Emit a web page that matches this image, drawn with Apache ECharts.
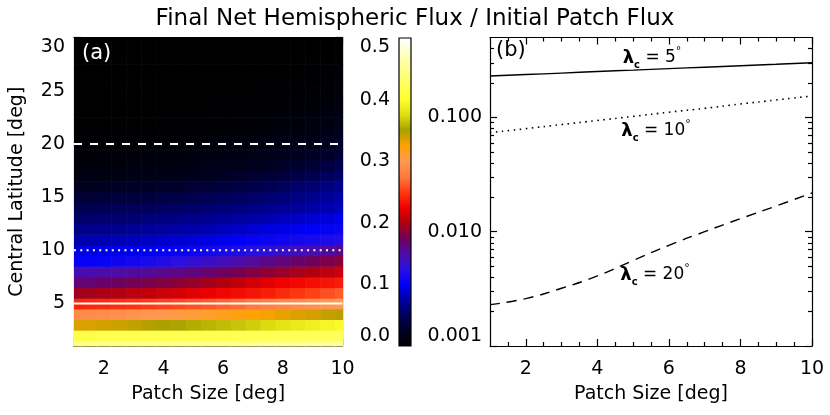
<!DOCTYPE html>
<html>
<head>
<meta charset="utf-8">
<title>Final Net Hemispheric Flux / Initial Patch Flux</title>
<script src="https://cdn.jsdelivr.net/npm/echarts@6/dist/echarts.min.js"></script>
<style>
  html, body { margin: 0; padding: 0; background: #fff; }
  #chart { width: 830px; height: 415px; }
</style>
</head>
<body>
<div id="chart"></div>
<script>
// panel (a): columns = patch size, rows = central latitude (1..30)
const patchSizes = [1, 1.5, 2, 2.5, 3, 3.5, 4, 4.5, 5, 5.5, 6, 6.5, 7, 7.5, 8, 8.5, 9, 9.5, 10];
const latitudes = [1, 2, 3, 4, 5, 6, 7, 8, 9, 10, 11, 12, 13, 14, 15, 16, 17, 18, 19, 20, 21, 22, 23, 24, 25, 26, 27, 28, 29, 30];
const fluxRatio = [
  [0.447, 0.447, 0.448, 0.448, 0.448, 0.449, 0.449, 0.450, 0.450, 0.451, 0.451, 0.452, 0.452, 0.453, 0.453, 0.454, 0.455, 0.456, 0.457],
  [0.414, 0.414, 0.415, 0.415, 0.415, 0.416, 0.416, 0.417, 0.417, 0.418, 0.418, 0.419, 0.419, 0.420, 0.421, 0.421, 0.422, 0.423, 0.424],
  [0.335, 0.336, 0.338, 0.340, 0.343, 0.346, 0.349, 0.352, 0.355, 0.358, 0.361, 0.364, 0.368, 0.373, 0.378, 0.383, 0.388, 0.393, 0.397],
  [0.288, 0.289, 0.291, 0.293, 0.295, 0.298, 0.301, 0.304, 0.308, 0.312, 0.316, 0.320, 0.324, 0.328, 0.332, 0.335, 0.338, 0.342, 0.345],
  [0.240, 0.241, 0.243, 0.245, 0.247, 0.250, 0.253, 0.256, 0.259, 0.262, 0.266, 0.270, 0.275, 0.280, 0.285, 0.289, 0.293, 0.297, 0.300],
  [0.193, 0.195, 0.198, 0.200, 0.203, 0.206, 0.210, 0.214, 0.219, 0.223, 0.227, 0.230, 0.234, 0.238, 0.243, 0.248, 0.253, 0.258, 0.263],
  [0.165, 0.167, 0.170, 0.173, 0.176, 0.179, 0.182, 0.186, 0.190, 0.195, 0.200, 0.206, 0.213, 0.220, 0.225, 0.228, 0.231, 0.234, 0.237],
  [0.146, 0.147, 0.149, 0.151, 0.153, 0.155, 0.158, 0.161, 0.164, 0.168, 0.172, 0.177, 0.182, 0.187, 0.191, 0.196, 0.200, 0.205, 0.210],
  [0.102, 0.103, 0.105, 0.108, 0.111, 0.115, 0.120, 0.125, 0.131, 0.137, 0.143, 0.149, 0.155, 0.160, 0.165, 0.170, 0.175, 0.180, 0.185],
  [0.093, 0.094, 0.095, 0.096, 0.098, 0.100, 0.102, 0.105, 0.108, 0.111, 0.115, 0.119, 0.124, 0.129, 0.135, 0.141, 0.147, 0.153, 0.160],
  [0.078, 0.079, 0.080, 0.081, 0.083, 0.085, 0.087, 0.089, 0.091, 0.094, 0.097, 0.100, 0.103, 0.106, 0.109, 0.112, 0.115, 0.118, 0.121],
  [0.066, 0.067, 0.068, 0.069, 0.070, 0.072, 0.074, 0.076, 0.078, 0.080, 0.083, 0.086, 0.089, 0.092, 0.095, 0.098, 0.101, 0.104, 0.107],
  [0.055, 0.056, 0.057, 0.058, 0.059, 0.061, 0.063, 0.065, 0.067, 0.069, 0.072, 0.074, 0.077, 0.080, 0.083, 0.086, 0.089, 0.092, 0.096],
  [0.045, 0.046, 0.047, 0.048, 0.049, 0.050, 0.052, 0.054, 0.056, 0.058, 0.060, 0.062, 0.065, 0.068, 0.071, 0.074, 0.077, 0.080, 0.084],
  [0.033, 0.034, 0.035, 0.036, 0.037, 0.038, 0.040, 0.042, 0.044, 0.046, 0.049, 0.051, 0.054, 0.057, 0.061, 0.065, 0.069, 0.073, 0.077],
  [0.022, 0.023, 0.024, 0.025, 0.026, 0.027, 0.029, 0.031, 0.033, 0.035, 0.038, 0.040, 0.043, 0.047, 0.051, 0.055, 0.059, 0.064, 0.068],
  [0.013, 0.014, 0.014, 0.015, 0.016, 0.017, 0.018, 0.020, 0.022, 0.024, 0.026, 0.029, 0.032, 0.035, 0.039, 0.043, 0.047, 0.052, 0.056],
  [0.008, 0.008, 0.009, 0.009, 0.010, 0.011, 0.012, 0.013, 0.014, 0.016, 0.018, 0.020, 0.022, 0.025, 0.028, 0.031, 0.035, 0.039, 0.044],
  [0.005, 0.005, 0.006, 0.006, 0.007, 0.007, 0.008, 0.009, 0.010, 0.011, 0.012, 0.014, 0.016, 0.018, 0.020, 0.023, 0.026, 0.030, 0.034],
  [0.003, 0.003, 0.004, 0.004, 0.004, 0.005, 0.005, 0.006, 0.007, 0.008, 0.009, 0.010, 0.011, 0.013, 0.015, 0.017, 0.020, 0.023, 0.027],
  [0.002, 0.002, 0.002, 0.003, 0.003, 0.003, 0.004, 0.004, 0.005, 0.005, 0.006, 0.007, 0.008, 0.009, 0.011, 0.013, 0.015, 0.018, 0.021],
  [0.001, 0.001, 0.001, 0.002, 0.002, 0.002, 0.002, 0.003, 0.003, 0.004, 0.004, 0.005, 0.006, 0.007, 0.008, 0.009, 0.011, 0.013, 0.016],
  [0.001, 0.001, 0.001, 0.001, 0.001, 0.001, 0.002, 0.002, 0.002, 0.002, 0.003, 0.003, 0.004, 0.005, 0.006, 0.007, 0.008, 0.010, 0.012],
  [0.000, 0.000, 0.000, 0.000, 0.001, 0.001, 0.001, 0.001, 0.001, 0.002, 0.002, 0.002, 0.003, 0.003, 0.004, 0.005, 0.006, 0.007, 0.009],
  [0.000, 0.000, 0.000, 0.000, 0.000, 0.000, 0.001, 0.001, 0.001, 0.001, 0.001, 0.002, 0.002, 0.002, 0.003, 0.003, 0.004, 0.005, 0.007],
  [0.000, 0.000, 0.000, 0.000, 0.000, 0.000, 0.000, 0.000, 0.001, 0.001, 0.001, 0.001, 0.001, 0.002, 0.002, 0.002, 0.003, 0.004, 0.005],
  [0.000, 0.000, 0.000, 0.000, 0.000, 0.000, 0.000, 0.000, 0.000, 0.000, 0.001, 0.001, 0.001, 0.001, 0.001, 0.002, 0.002, 0.003, 0.004],
  [0.000, 0.000, 0.000, 0.000, 0.000, 0.000, 0.000, 0.000, 0.000, 0.000, 0.000, 0.000, 0.001, 0.001, 0.001, 0.001, 0.001, 0.002, 0.003],
  [0.000, 0.000, 0.000, 0.000, 0.000, 0.000, 0.000, 0.000, 0.000, 0.000, 0.000, 0.000, 0.000, 0.000, 0.001, 0.001, 0.001, 0.001, 0.002],
  [0.000, 0.000, 0.000, 0.000, 0.000, 0.000, 0.000, 0.000, 0.000, 0.000, 0.000, 0.000, 0.000, 0.000, 0.000, 0.000, 0.001, 0.001, 0.001]
];
const refLatitudes = [5, 10, 20]; // solid, dotted, dashed lines in (a)

// panel (b): ratio vs patch size for three central latitudes
const lineSizes = [1, 2, 3, 4, 5, 6, 7, 8, 9, 10];
const ratioLat5 = [0.230, 0.237, 0.244, 0.252, 0.259, 0.267, 0.275, 0.283, 0.292, 0.301];
const ratioLat10 = [0.0734, 0.0797, 0.0866, 0.094, 0.102, 0.111, 0.120, 0.131, 0.142, 0.154];
const ratioLat20 = [0.0023, 0.0026, 0.0032, 0.0041, 0.0056, 0.0076, 0.0100, 0.0130, 0.0168, 0.0218];

// tick labels
const sizeTicks = [2, 4, 6, 8, 10];
const sizeMinor = [1.5, 2.5, 3, 3.5, 4.5, 5, 5.5, 6.5, 7, 7.5, 8.5, 9, 9.5];
const latTicks = [5, 10, 15, 20, 25, 30];
const latMinor = [2, 3, 4, 6, 7, 8, 9, 11, 12, 13, 14, 16, 17, 18, 19, 21, 22, 23, 24, 26, 27, 28, 29];
const barTicks = [0, 0.1, 0.2, 0.3, 0.4, 0.5];
const logTicks = [0.001, 0.01, 0.1];
const logMinor = [0.002, 0.003, 0.004, 0.005, 0.006, 0.007, 0.008, 0.009,
  0.02, 0.03, 0.04, 0.05, 0.06, 0.07, 0.08, 0.09, 0.2, 0.3, 0.4];

// colour table (0 .. 0.5), evenly spaced
const colorTable = ['#000000', '#000022', '#00005a', '#0000a0', '#0000f8', '#2810e0', '#4c0ca8',
  '#700058', '#b00010', '#f00000', '#ff3a10', '#ff7a40', '#ff9a50', '#ffa200', '#a8a000',
  '#e0e010', '#ffff30', '#ffff60', '#ffff90', '#ffffc8', '#ffffff'];

const FONT = 'DejaVu Sans';
const chart = echarts.init(document.getElementById('chart'));

const cells = [];
latitudes.forEach((lat, i) => {
  patchSizes.forEach((s, j) => cells.push([s, lat, fluxRatio[i][j]]));
});

const xAxes = [];
const yAxes = [];
const lineCol = { color: '#000', width: 1.2 };

// a boxed frame: labelled axis + mirrored one, each with major and minor inward ticks
function frame(list, grid, sides, type, min, max, major, minor, label, name) {
  const first = list.length;
  sides.forEach((pos, k) => {
    list.push({
      gridIndex: grid, type, min, max, position: pos,
      name: k === 0 ? name : '',
      nameLocation: 'middle',
      nameTextStyle: { fontFamily: FONT, fontSize: 19, color: '#000' },
      axisLine: { show: true, onZero: false, lineStyle: lineCol },
      axisTick: { show: !!major, inside: true, length: 7, customValues: major || [], lineStyle: lineCol },
      axisLabel: k === 0 && label ? Object.assign({ customValues: major }, label) : { show: false },
      splitLine: { show: false }
    });
    list.push({
      gridIndex: grid, type, min, max, position: pos,
      axisLine: { show: false },
      axisTick: { show: !!minor, inside: true, length: 4, customValues: minor || [], lineStyle: lineCol },
      axisLabel: { show: false },
      splitLine: { show: false }
    });
  });
  return first;
}

const tickFont = { fontFamily: FONT, fontSize: 19, color: '#000' };

// grid 0: heatmap, grid 1: colour bar, grid 2: line plot
const ax0 = frame(xAxes, 0, ['bottom', 'top'], 'value', 1, 10, sizeTicks, sizeMinor,
  Object.assign({ margin: 14 }, tickFont), 'Patch Size [deg]');
const ay0 = frame(yAxes, 0, ['left', 'right'], 'value', 1, 30, latTicks, latMinor,
  Object.assign({ margin: 9, verticalAlignMaxLabel: 'top' }, tickFont), 'Central Latitude [deg]');
const ax1 = xAxes.length;
xAxes.push({ gridIndex: 1, type: 'value', min: 0, max: 1, show: false });
const ay1 = yAxes.length;
yAxes.push({
  gridIndex: 1, type: 'value', min: 0, max: 0.5, position: 'left',
  axisLine: { show: false }, axisTick: { show: false }, splitLine: { show: false },
  axisLabel: Object.assign({
    customValues: barTicks, margin: 9, formatter: v => v.toFixed(1),
    verticalAlignMinLabel: 'bottom', verticalAlignMaxLabel: 'top'
  }, tickFont)
});
const ax2 = frame(xAxes, 2, ['bottom', 'top'], 'value', 1, 10, sizeTicks, sizeMinor,
  Object.assign({ margin: 14 }, tickFont), 'Patch Size [deg]');
const ay2 = frame(yAxes, 2, ['left', 'right'], 'log', 0.001, 0.5, logTicks, logMinor,
  Object.assign({ margin: 8, formatter: v => v.toFixed(3), verticalAlignMinLabel: 'bottom' }, tickFont), '');

xAxes.forEach(a => { if (a.name) a.nameGap = 39; });
yAxes[ay0].nameGap = 47;

const gradStops = colorTable.map((c, i) => ({ offset: i / (colorTable.length - 1), color: c }));

const refStyles = [
  { type: 'solid', width: 2 },
  { type: [2, 4.3], width: 2 },
  { type: [8, 8], width: 2 }
];

const option = {
  animation: false,
  backgroundColor: '#fff',
  textStyle: { fontFamily: FONT },
  title: {
    text: 'Final Net Hemispheric Flux / Initial Patch Flux',
    left: 'center', top: 3,
    textStyle: { fontFamily: FONT, fontSize: 23, fontWeight: 'normal', color: '#000' }
  },
  grid: [
    { left: 74, top: 37.5, width: 268.5, height: 308.5 },
    { left: 399, top: 38, width: 12, height: 308 },
    { left: 490, top: 37.5, width: 322, height: 308.5 }
  ],
  xAxis: xAxes,
  yAxis: yAxes,
  visualMap: {
    show: false, type: 'continuous', min: 0, max: 0.5, dimension: 2, seriesIndex: 0,
    inRange: { color: colorTable }
  },
  series: [
    {
      type: 'custom',
      xAxisIndex: ax0, yAxisIndex: ay0,
      data: cells,
      renderItem: (params, api) => {
        const s = api.value(0), lat = api.value(1);
        const p0 = api.coord([Math.max(s - 0.25, 1), Math.min(lat + 0.5, 30)]);
        const p1 = api.coord([Math.min(s + 0.25, 10), Math.max(lat - 0.5, 1)]);
        return {
          type: 'rect',
          shape: { x: p0[0], y: p0[1], width: p1[0] - p0[0] + 0.6, height: p1[1] - p0[1] + 0.6 },
          style: { fill: api.visual('color') }
        };
      }
    },
    ...refLatitudes.map((lat, i) => ({
      type: 'line', xAxisIndex: ax0, yAxisIndex: ay0, z: 5,
      symbol: 'none', silent: true,
      data: [[patchSizes[0], lat], [patchSizes[patchSizes.length - 1], lat]],
      lineStyle: Object.assign({ color: '#fff' }, refStyles[i])
    })),
    {
      type: 'custom',
      xAxisIndex: ax1, yAxisIndex: ay1,
      data: [[0, 1, 0, 0.5]],
      renderItem: (params, api) => {
        const p0 = api.coord([api.value(0), api.value(3)]);
        const p1 = api.coord([api.value(1), api.value(2)]);
        return {
          type: 'rect',
          shape: { x: p0[0], y: p0[1], width: p1[0] - p0[0], height: p1[1] - p0[1] },
          style: {
            fill: new echarts.graphic.LinearGradient(0, 1, 0, 0, gradStops),
            stroke: '#000', lineWidth: 1.2
          }
        };
      }
    },
    {
      type: 'line', xAxisIndex: ax2, yAxisIndex: ay2, symbol: 'none', smooth: true,
      data: lineSizes.map((s, i) => [s, ratioLat5[i]]),
      lineStyle: { color: '#000', width: 1.4, type: 'solid' }
    },
    {
      type: 'line', xAxisIndex: ax2, yAxisIndex: ay2, symbol: 'none', smooth: true,
      data: lineSizes.map((s, i) => [s, ratioLat10[i]]),
      lineStyle: { color: '#000', width: 1.6, type: [1.5, 4.5] }
    },
    {
      type: 'line', xAxisIndex: ax2, yAxisIndex: ay2, symbol: 'none', smooth: true,
      data: lineSizes.map((s, i) => [s, ratioLat20[i]]),
      lineStyle: { color: '#000', width: 1.4, type: [10, 7] }
    }
  ],
  graphic: [
    { type: 'text', left: 82, top: 43, z: 10,
      style: { text: '(a)', fill: '#fff', font: '21px "DejaVu Sans"' } },
    { type: 'text', left: 496, top: 40, z: 10,
      style: { text: '(b)', fill: '#000', font: '21px "DejaVu Sans"' } },
    ...[['5', 652, 58], ['10', 656, 131], ['20', 655, 275]].map(([deg, x, y]) => ({
      type: 'text', x, y, z: 10,
      style: {
        text: '{l|λ}{c|c}{t| = ' + deg + '}{d|°}',
        align: 'center', verticalAlign: 'middle', fill: '#000',
        rich: {
          l: { fontFamily: FONT, fontSize: 18, fontWeight: 'bold', lineHeight: 20 },
          c: { fontFamily: FONT, fontSize: 10, fontWeight: 'bold', verticalAlign: 'bottom', lineHeight: 14 },
          t: { fontFamily: FONT, fontSize: 17, lineHeight: 20 },
          d: { fontFamily: FONT, fontSize: 11, verticalAlign: 'top', lineHeight: 24 }
        }
      }
    }))
  ]
};

chart.setOption(option);
window.addEventListener('resize', () => chart.resize());
</script>
</body>
</html>
